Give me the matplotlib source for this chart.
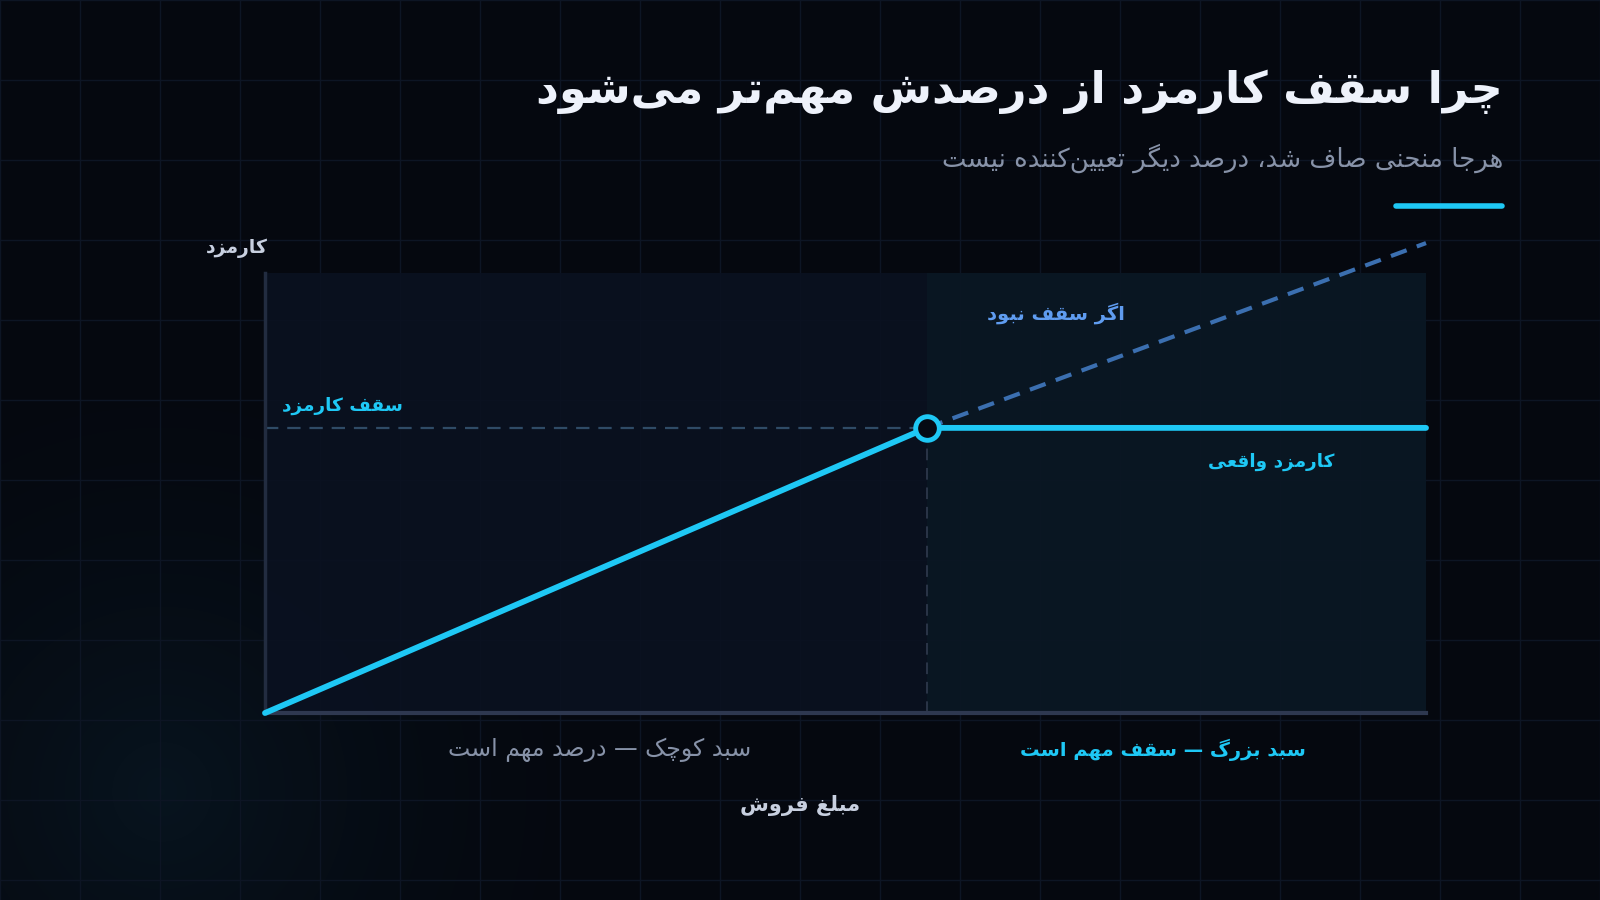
import matplotlib
matplotlib.use("Agg")
import matplotlib.pyplot as plt
import numpy as np

# --- data (normalized sales amount vs fee) ---
sales = [0, 57, 100]
fee_actual = [0, 64.8, 64.8]
sales_nocap = [57, 100]
fee_nocap = [64.8, 106.8]
cap_x = 57
cap_y = 64.8

title = "چرا سقف کارمزد از درصدش مهم‌تر می‌شود"
subtitle = "هرجا منحنی صاف شد، درصد دیگر تعیین‌کننده نیست"
ylabel = "کارمزد"
xlabel = "مبلغ فروش"
cap_label = "سقف کارمزد"
nocap_label = "اگر سقف نبود"
actual_label = "کارمزد واقعی"
small_label = "سبد کوچک — درصد مهم است"
big_label = "سبد بزرگ — سقف مهم است"

# isolated, final, initial, medial (right-joining letters only have two)
FORMS = {
    "ا": "\uFE8D\uFE8E", "آ": "\uFE81\uFE82",
    "ب": "\uFE8F\uFE90\uFE91\uFE92", "پ": "\uFB56\uFB57\uFB58\uFB59",
    "ت": "\uFE95\uFE96\uFE97\uFE98", "ث": "\uFE99\uFE9A\uFE9B\uFE9C",
    "ج": "\uFE9D\uFE9E\uFE9F\uFEA0", "چ": "\uFB7A\uFB7B\uFB7C\uFB7D",
    "ح": "\uFEA1\uFEA2\uFEA3\uFEA4", "خ": "\uFEA5\uFEA6\uFEA7\uFEA8",
    "د": "\uFEA9\uFEAA", "ذ": "\uFEAB\uFEAC", "ر": "\uFEAD\uFEAE",
    "ز": "\uFEAF\uFEB0", "ژ": "\uFB8A\uFB8B",
    "س": "\uFEB1\uFEB2\uFEB3\uFEB4", "ش": "\uFEB5\uFEB6\uFEB7\uFEB8",
    "ص": "\uFEB9\uFEBA\uFEBB\uFEBC", "ض": "\uFEBD\uFEBE\uFEBF\uFEC0",
    "ط": "\uFEC1\uFEC2\uFEC3\uFEC4", "ظ": "\uFEC5\uFEC6\uFEC7\uFEC8",
    "ع": "\uFEC9\uFECA\uFECB\uFECC", "غ": "\uFECD\uFECE\uFECF\uFED0",
    "ف": "\uFED1\uFED2\uFED3\uFED4", "ق": "\uFED5\uFED6\uFED7\uFED8",
    "ک": "\uFB8E\uFB8F\uFB90\uFB91", "گ": "\uFB92\uFB93\uFB94\uFB95",
    "ل": "\uFEDD\uFEDE\uFEDF\uFEE0", "م": "\uFEE1\uFEE2\uFEE3\uFEE4",
    "ن": "\uFEE5\uFEE6\uFEE7\uFEE8", "و": "\uFEED\uFEEE",
    "ه": "\uFEE9\uFEEA\uFEEB\uFEEC", "ی": "\uFBFC\uFBFD\uFBFE\uFBFF",
}

def fa(text):
    chars = list(text)
    out = []
    for i, c in enumerate(chars):
        if c not in FORMS:
            out.append(c)
            continue
        prev = chars[i - 1] if i > 0 else None
        nxt = chars[i + 1] if i + 1 < len(chars) else None
        jp = prev in FORMS and len(FORMS[prev]) == 4
        jn = len(FORMS[c]) == 4 and nxt in FORMS
        f = FORMS[c]
        if jp and jn:
            out.append(f[3])
        elif jp:
            out.append(f[1])
        elif jn:
            out.append(f[2])
        else:
            out.append(f[0])
    return "".join(out).replace("\u200c", "")[::-1]

plt.rcParams['font.family'] = ['DejaVu Sans']

W, H = 1600, 900
fig = plt.figure(figsize=(16, 9), dpi=100)
fig.patch.set_facecolor("#05080f")

# background layer in pixel coords
bg = fig.add_axes([0, 0, 1, 1])
bg.set_xlim(0, W)
bg.set_ylim(H, 0)
bg.axis("off")

# soft glow bottom-left
yy, xx = np.mgrid[0:H:4, 0:W:4]
d = np.sqrt((xx - 160) ** 2 + (yy - 790) ** 2)
alpha = np.clip(1 - d / 520, 0, 1) ** 2 * 0.35
glow = np.zeros(xx.shape + (4,))
glow[..., 0] = 0.05
glow[..., 1] = 0.17
glow[..., 2] = 0.24
glow[..., 3] = alpha
bg.imshow(glow, extent=[0, W, H, 0], interpolation="bilinear", zorder=0)

for gx in range(0, W + 1, 80):
    bg.axvline(gx, color="#0d1524", lw=1, zorder=1)
for gy in range(0, H + 1, 80):
    bg.axhline(gy, color="#0d1524", lw=1, zorder=1)

def fx(x):
    return x / W

def fy(y):
    return 1 - y / H

# title block
fig.text(fx(1503), fy(92), fa(title), ha="right", va="center",
         fontsize=32, fontweight="bold", color="#eef2fb")
fig.text(fx(1503), fy(158), fa(subtitle), ha="right", va="center",
         fontsize=18.7, color="#8792a8")
bg.plot([1396, 1502], [206, 206], color="#1ec8f5", lw=4, solid_capstyle="round", zorder=3)

# plot area
ax = fig.add_axes([fx(265), fy(713), fx(1426) - fx(265), fy(273) - fy(713)])
ax.set_facecolor((0.04, 0.067, 0.125, 0.92))
ax.set_xlim(0, 100)
ax.set_ylim(0, 100)
ax.axvspan(cap_x, 100, color="#0a1c26", alpha=0.5, lw=0, zorder=0)
for s in ["top", "right"]:
    ax.spines[s].set_visible(False)
ax.spines["left"].set_color("#222c40")
ax.spines["left"].set_linewidth(2.5)
ax.spines["bottom"].set_color("#2e3850")
ax.spines["bottom"].set_linewidth(3)
ax.set_xticks([])
ax.set_yticks([])

ax.plot([0, cap_x], [cap_y, cap_y], color="#2f4b66", lw=1.6, ls=(0, (6, 4)), zorder=2)
ax.plot([cap_x, cap_x], [0, cap_y], color="#2a3548", lw=1.4, ls=(0, (6, 4)), zorder=2)
ax.plot(sales_nocap, fee_nocap, color="#3b6fb0", lw=3, ls=(0, (4, 2.6)),
        clip_on=False, zorder=3)
ax.plot(sales, fee_actual, color="#1ec8f5", lw=4.2, solid_capstyle="round",
        clip_on=False, zorder=4)
ax.plot([cap_x], [cap_y], marker="o", ms=17, mfc="#050a14", mec="#1ec8f5",
        mew=3.5, clip_on=False, zorder=5)

# labels
fig.text(fx(268), fy(248), fa(ylabel), ha="right", va="center",
         fontsize=13.5, fontweight="bold", color="#c8d0e0")
fig.text(fx(403), fy(406), fa(cap_label), ha="right", va="center",
         fontsize=13.3, fontweight="bold", color="#1ec8f5")
fig.text(fx(1125), fy(313), fa(nocap_label), ha="right", va="center",
         fontsize=14, fontweight="bold", color="#5f9cf0")
fig.text(fx(1334), fy(462), fa(actual_label), ha="right", va="center",
         fontsize=13.3, fontweight="bold", color="#1ec8f5")
fig.text(fx(600), fy(750), fa(small_label), ha="center", va="center",
         fontsize=17, color="#8792a8")
fig.text(fx(1163), fy(750), fa(big_label), ha="center", va="center",
         fontsize=14, fontweight="bold", color="#1ec8f5")
fig.text(fx(800), fy(805), fa(xlabel), ha="center", va="center",
         fontsize=15, fontweight="bold", color="#c8d0e0")

fig.savefig("out.png", dpi=100, facecolor=fig.get_facecolor())
